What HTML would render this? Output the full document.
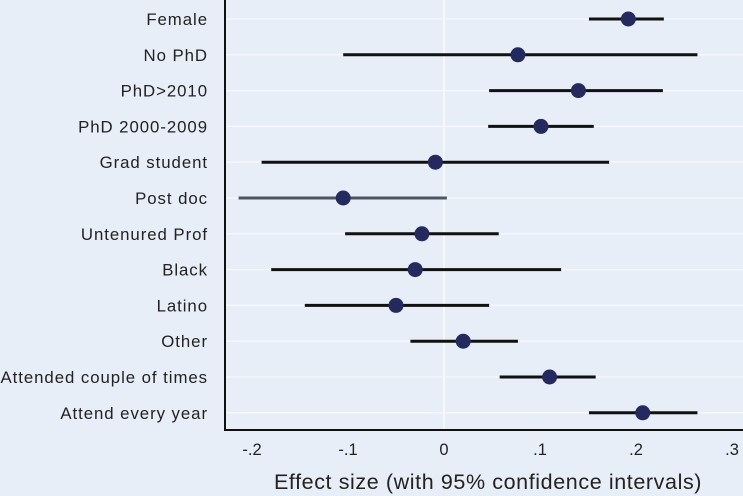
<!DOCTYPE html>
<html><head><meta charset="utf-8"><style>
html,body{margin:0;padding:0;background:#e7eef7;}
svg{display:block;font-family:"Liberation Sans",sans-serif;}
</style></head><body>
<svg id="c" width="743" height="496"></svg>
<script>
const categories=["Female","No PhD","PhD>2010","PhD 2000-2009","Grad student","Post doc","Untenured Prof","Black","Latino","Other","Attended couple of times","Attend every year"];
const estimates=[0.192,0.077,0.14,0.101,-0.009,-0.105,-0.023,-0.030,-0.05,0.02,0.11,0.207];
const lower=[0.151,-0.105,0.047,0.046,-0.19,-0.214,-0.103,-0.18,-0.145,-0.035,0.058,0.151];
const upper=[0.229,0.264,0.228,0.156,0.172,0.003,0.057,0.122,0.047,0.077,0.158,0.264];
const ticks=[-0.2,-0.1,0,0.1,0.2,0.3];
const tickLabels=["-.2","-.1","0",".1",".2",".3"];
const ns="http://www.w3.org/2000/svg";
const svg=document.getElementById('c');
const x=v=>444+v*960;
const y=i=>19+i*35.8;
function mk(t,a){const e=document.createElementNS(ns,t);for(const k in a)e.setAttribute(k,a[k]);svg.appendChild(e);return e;}
let z=mk('line',{x1:x(0),x2:x(0),y1:0,y2:430,stroke:'#f6f9fc','stroke-width':2});


categories.forEach((c,i)=>{
 let g=mk('line',{x1:226,x2:743,y1:y(i),y2:y(i),stroke:'#f4f7fb','stroke-width':1.5});
 
 
 let t=mk('text',{x:208,y:y(i)+6,'text-anchor':'end','font-size':16.8,'letter-spacing':0.95,fill:'#222'});t.textContent=c;
 
 
 let l=mk('line',{x1:x(lower[i]),x2:x(upper[i]),y1:y(i),y2:y(i),stroke:i==5?'#4d5563':'#111','stroke-width':3});
 
 
 let d=mk('circle',{cx:x(estimates[i]),cy:y(i),r:7.5,fill:'#252a5e'});
 
 
});
let ya=mk('line',{x1:225,x2:225,y1:0,y2:431,stroke:'#111','stroke-width':2});


let xa=mk('line',{x1:224,x2:743,y1:430,y2:430,stroke:'#111','stroke-width':2});


ticks.forEach((v,i)=>{
 let t=mk('text',{x:x(v),y:455,'text-anchor':'middle','font-size':16.5,fill:'#222'});t.textContent=tickLabels[i];
 
 
});
let tt=mk('text',{x:488,y:489,'text-anchor':'middle','font-size':21.5,'letter-spacing':0.6,fill:'#222'});tt.textContent="Effect size (with 95% confidence intervals)";


</script>
</body></html>
